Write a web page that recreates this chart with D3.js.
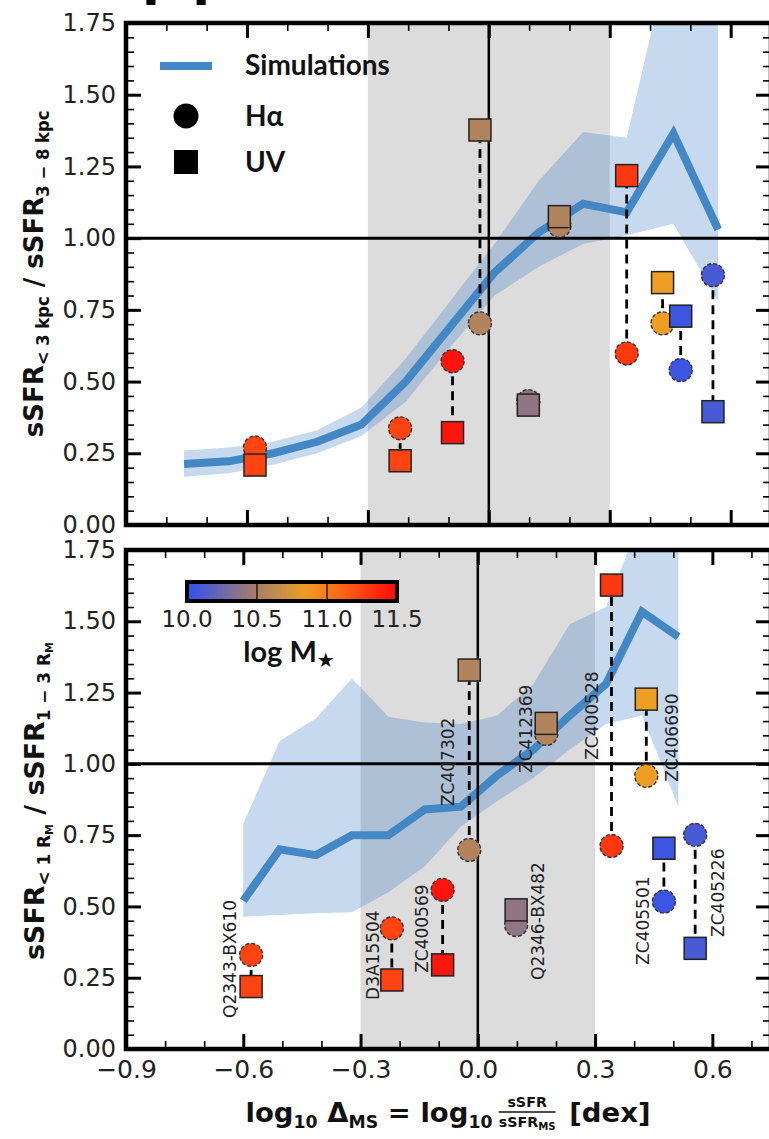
<!DOCTYPE html>
<html lang="en">
<head>
<meta charset="utf-8">
<title>sSFR ratio vs offset from main sequence</title>
<script src="https://d3js.org/d3.v7.min.js"></script>
<style>
  body { margin: 0; background: #fff; }
  .bold { font-family: Lato, "Open Sans", "DejaVu Sans", sans-serif; font-weight: bold; fill: #111; }
  .title { font-family: "DejaVu Sans", sans-serif; font-weight: bold; fill: #111; }
  .name { font-family: "DejaVu Sans", sans-serif; font-size: 17px; fill: #222; }
</style>
</head>
<body>
<script>

// galaxies, same order in every array below
var galaxies = ["Q2343-BX610", "D3A15504", "ZC400569", "ZC407302", "Q2346-BX482",
                "ZC412369", "ZC400528", "ZC406690", "ZC405501", "ZC405226"];
var logMass  = [11.25, 11.25, 11.45, 10.55, 10.4, 10.55, 11.3, 10.85, 10.05, 10.1];
var dMS      = [-0.58, -0.22, -0.09, -0.022, 0.098, 0.175, 0.342, 0.431, 0.476, 0.556];

// top panel: <3 kpc / 3-8 kpc
var haTop = [0.27, 0.337, 0.571, 0.703, 0.432, 1.043, 0.598, 0.703, 0.54, 0.871];
var uvTop = [0.209, 0.224, 0.322, 1.377, 0.418, 1.075, 1.218, 0.845, 0.728, 0.395];
// bottom panel: <1 R_M / 1-3 R_M
var haBot = [0.33, 0.423, 0.558, 0.698, 0.435, 1.105, 0.712, 0.958, 0.517, 0.751];
var uvBot = [0.219, 0.242, 0.295, 1.329, 0.488, 1.142, 1.627, 1.227, 0.704, 0.353];

// where the galaxy names sit in the bottom panel (data coords, text starts here)
var nameX = [-0.634, -0.268, -0.143, -0.076, 0.154, 0.123, 0.292, 0.497, 0.423, 0.614];
var nameY = [0.109, 0.172, 0.267, 0.852, 0.242, 0.968, 1.014, 0.937, 0.295, 0.393];

// simulations: median and spread
var simXTop   = [-0.756, -0.646, -0.536, -0.426, -0.316, -0.206, -0.096, 0.014, 0.124, 0.234, 0.342, 0.458, 0.569];
var simMedTop = [0.213, 0.222, 0.25, 0.29, 0.35, 0.50, 0.69, 0.88, 1.02, 1.12, 1.09, 1.365, 1.03];
var simLoTop  = [0.168, 0.18, 0.21, 0.25, 0.31, 0.43, 0.62, 0.80, 0.90, 0.98, 1.01, 1.05, 0.78];
var simHiTop  = [0.26, 0.27, 0.29, 0.33, 0.41, 0.58, 0.78, 0.98, 1.20, 1.37, 1.35, 2.05, 2.0];

var simXBot   = [-0.6, -0.507, -0.414, -0.322, -0.229, -0.136, -0.043, 0.05, 0.142, 0.235, 0.328, 0.42, 0.513];
var simMedBot = [0.52, 0.70, 0.68, 0.75, 0.75, 0.84, 0.85, 0.96, 1.05, 1.17, 1.28, 1.534, 1.446];
var simLoBot  = [0.464, 0.47, 0.476, 0.48, 0.55, 0.64, 0.78, 0.87, 0.95, 1.05, 1.14, 1.17, 0.85];
var simHiBot  = [0.79, 1.08, 1.16, 1.30, 1.165, 1.145, 1.14, 1.17, 1.28, 1.49, 1.55, 1.87, 1.87];

var yMajor = [0, 0.25, 0.5, 0.75, 1.0, 1.25, 1.5, 1.75];
var xMajor = [-0.9, -0.6, -0.3, 0.0, 0.3, 0.6];
var massTicks = [10.0, 10.5, 11.0, 11.5];

var w = 769, h = 1139;
var left = 126, right = 771;
var nb = "\u00a0";

var svg = d3.select("body").append("svg")
            .attr("width", w)
            .attr("height", h);

// blue -> brown -> orange -> red
var colorScale = d3.scaleLinear()
    .domain([10.0, 10.5, 10.85, 11.15, 11.5])
    .range(["#3050f0", "#a88068", "#ee9e22", "#ff5a14", "#ff0a0a"]);

var blue = "#4487c5";

// cut off title letters at the very top of the crop
svg.append("text")
   .attr("x", 142).attr("y", -6)
   .attr("font-size", 52)
   .attr("font-weight", "bold")
   .attr("letter-spacing", 13)
   .attr("font-family", "DejaVu Sans")
   .text("pp");

function panel(id, top, bottom, xDomain, ha, uv, simX, simMed, simLo, simHi, showX) {
  var x = d3.scaleLinear().domain(xDomain).range([left, right]);
  var y = d3.scaleLinear().domain([0, 1.75]).range([bottom, top]);
  var g = svg.append("g");

  g.append("clipPath").attr("id", id)
   .append("rect")
   .attr("x", left).attr("y", top)
   .attr("width", right - left).attr("height", bottom - top);

  var inner = g.append("g").attr("clip-path", "url(#" + id + ")");

  // grey region
  inner.append("rect")
       .attr("x", x(-0.3)).attr("y", top)
       .attr("width", x(0.3) - x(-0.3)).attr("height", bottom - top)
       .attr("fill", "#dcdcdc");

  var idx = d3.range(simX.length);
  var band = d3.area()
      .x(i => x(simX[i]))
      .y0(i => y(simLo[i]))
      .y1(i => y(simHi[i]));
  inner.append("path")
       .datum(idx)
       .attr("d", band)
       .attr("fill", "rgb(70,130,200)")
       .attr("fill-opacity", 0.3);

  var lineGen = d3.line()
      .x(i => x(simX[i]))
      .y(i => y(simMed[i]));
  inner.append("path")
       .datum(idx)
       .attr("d", lineGen)
       .attr("fill", "none")
       .attr("stroke", blue)
       .attr("stroke-width", 8)
       .attr("stroke-linejoin", "miter");

  // reference lines
  inner.append("line")
       .attr("x1", left).attr("x2", right)
       .attr("y1", y(1)).attr("y2", y(1))
       .attr("stroke", "#000").attr("stroke-width", 3);
  inner.append("line")
       .attr("x1", x(0)).attr("x2", x(0))
       .attr("y1", top).attr("y2", bottom)
       .attr("stroke", "#000").attr("stroke-width", 2.5);

  var gi = d3.range(galaxies.length);

  inner.selectAll("line.conn")
       .data(gi).enter().append("line")
       .attr("class", "conn")
       .attr("x1", i => x(dMS[i])).attr("x2", i => x(dMS[i]))
       .attr("y1", i => y(ha[i])).attr("y2", i => y(uv[i]))
       .attr("stroke", "#000")
       .attr("stroke-width", 2.8)
       .attr("stroke-dasharray", "9,6");

  inner.selectAll("circle.ha")
       .data(gi).enter().append("circle")
       .attr("class", "ha")
       .attr("cx", i => x(dMS[i]))
       .attr("cy", i => y(ha[i]))
       .attr("r", 11.5)
       .attr("fill", i => colorScale(logMass[i]))
       .attr("stroke", "#333")
       .attr("stroke-width", 1.4)
       .attr("stroke-dasharray", "4,2");

  inner.selectAll("rect.uv")
       .data(gi).enter().append("rect")
       .attr("class", "uv")
       .attr("x", i => x(dMS[i]) - 11)
       .attr("y", i => y(uv[i]) - 11)
       .attr("width", 22).attr("height", 22)
       .attr("fill", i => colorScale(logMass[i]))
       .attr("stroke", "#222")
       .attr("stroke-width", 1.5);

  // ticks
  function styleAxis(a, fs) {
    a.select(".domain").remove();
    a.selectAll(".tick line").attr("stroke", "#000");
    a.attr("font-family", "DejaVu Sans, sans-serif").attr("font-size", fs);
    a.selectAll(".tick text").attr("fill", "#222");
  }
  var xMinor = d3.range(-9, 8).map(d => d / 10).filter(d => d <= xDomain[1]);
  var yMinor = d3.range(0, 36).map(d => d * 0.05);

  [["axisLeft", left], ["axisRight", right]].forEach(function (p) {
    g.append("g").attr("transform", `translate(${p[1]},0)`)
     .call(d3[p[0]](y).tickValues(yMinor).tickSize(-8).tickFormat(""))
     .call(a => { styleAxis(a, 24); a.selectAll(".tick line").attr("stroke-width", 1.6); });
  });
  g.append("g").attr("transform", `translate(${left},0)`)
   .call(d3.axisLeft(y).tickValues(yMajor).tickSize(-15).tickPadding(10).tickFormat(d3.format(".2f")))
   .call(a => { styleAxis(a, 24); a.selectAll(".tick line").attr("stroke-width", 3); });
  g.append("g").attr("transform", `translate(${right},0)`)
   .call(d3.axisRight(y).tickValues(yMajor).tickSize(-15).tickFormat(""))
   .call(a => { styleAxis(a, 24); a.selectAll(".tick line").attr("stroke-width", 3); });

  [["axisTop", top], ["axisBottom", bottom]].forEach(function (p) {
    g.append("g").attr("transform", `translate(0,${p[1]})`)
     .call(d3[p[0]](x).tickValues(xMinor).tickSize(-8).tickFormat(""))
     .call(a => { styleAxis(a, 25); a.selectAll(".tick line").attr("stroke-width", 1.6); });
  });
  g.append("g").attr("transform", `translate(0,${top})`)
   .call(d3.axisTop(x).tickValues(xMajor).tickSize(-15).tickFormat(""))
   .call(a => { styleAxis(a, 25); a.selectAll(".tick line").attr("stroke-width", 3); });
  g.append("g").attr("transform", `translate(0,${bottom})`)
   .call(d3.axisBottom(x).tickValues(xMajor).tickSize(-15).tickPadding(11)
          .tickFormat(showX ? d3.format(".1f") : ""))
   .call(a => { styleAxis(a, 25); a.selectAll(".tick line").attr("stroke-width", 3); });

  // frame
  g.append("rect")
   .attr("x", left).attr("y", top)
   .attr("width", right - left).attr("height", bottom - top)
   .attr("fill", "none")
   .attr("stroke", "#000")
   .attr("stroke-width", 4.5);

  return {x: x, y: y, g: g};
}

var pTop = panel("clipTop", 23, 525, [-0.9, 0.7], haTop, uvTop,
                 simXTop, simMedTop, simLoTop, simHiTop, false);
var pBot = panel("clipBot", 550, 1049, [-0.9, 0.75], haBot, uvBot,
                 simXBot, simMedBot, simLoBot, simHiBot, true);

// galaxy names, bottom panel
pBot.g.selectAll("text.name")
  .data(d3.range(galaxies.length)).enter().append("text")
  .attr("class", "name")
  .attr("transform", i => `translate(${pBot.x(nameX[i])},${pBot.y(nameY[i])}) rotate(-90)`)
  .attr("dominant-baseline", "central")
  .text(i => galaxies[i]);

// legend (top panel)
var leg = svg.append("g");
leg.append("line").attr("x1", 160).attr("x2", 212).attr("y1", 66).attr("y2", 66)
   .attr("stroke", blue).attr("stroke-width", 8);
leg.append("circle").attr("cx", 186).attr("cy", 116).attr("r", 12.5).attr("fill", "#000");
leg.append("rect").attr("x", 174).attr("y", 150).attr("width", 24).attr("height", 24).attr("fill", "#000");
leg.selectAll("text.lg")
   .data([["Simulations", 75], ["H\u03b1", 126], ["UV", 172]])
   .enter().append("text")
   .attr("class", "bold")
   .attr("x", 245).attr("y", d => d[1])
   .attr("font-size", 28)
   .text(d => d[0]);

// colorbar (bottom panel)
var cbx = d3.scaleLinear().domain([10.0, 11.5]).range([187, 397]);
var grad = svg.append("defs").append("linearGradient").attr("id", "cmap");
grad.selectAll("stop")
    .data(d3.range(0, 1.0001, 0.05))
    .enter().append("stop")
    .attr("offset", d => d)
    .attr("stop-color", d => colorScale(10 + 1.5 * d));
svg.append("rect")
   .attr("x", cbx(10)).attr("y", 582)
   .attr("width", cbx(11.5) - cbx(10)).attr("height", 19)
   .attr("fill", "url(#cmap)")
   .attr("stroke", "#000").attr("stroke-width", 4);
svg.selectAll("line.cbdiv")
   .data([10.5, 11.0]).enter().append("line")
   .attr("x1", d => cbx(d)).attr("x2", d => cbx(d))
   .attr("y1", 582).attr("y2", 601)
   .attr("stroke", "#000").attr("stroke-width", 1.2);
svg.selectAll("text.cbl")
   .data(massTicks).enter().append("text")
   .attr("x", d => cbx(d)).attr("y", 627)
   .attr("text-anchor", "middle")
   .attr("font-family", "DejaVu Sans, sans-serif")
   .attr("font-size", 23)
   .attr("fill", "#222")
   .text(d => d.toFixed(1));
var cbt = svg.append("text").attr("class", "bold")
   .attr("x", 289).attr("y", 662)
   .attr("text-anchor", "middle")
   .attr("font-size", 29);
cbt.append("tspan").text("log M");
cbt.append("tspan").attr("font-size", 20).attr("dy", 5).text("\u2605");

// y-axis titles, stretched along their length to the reference span
function yTitle(cx, cy, span, parts) {
  var t = svg.append("text").attr("class", "title")
     .attr("text-anchor", "middle")
     .attr("font-size", 27);
  parts.forEach(function (p) {
    t.append("tspan").attr("font-size", p[1]).attr("dy", p[2]).text(p[0]);
  });
  var k = span / t.node().getComputedTextLength();
  t.attr("transform", `translate(${cx},${cy}) rotate(-90) scale(${k},1)`);
}
yTitle(43, 274, 327, [["sSFR", 27, 0], ["<" + nb + "3" + nb + "kpc", 17, 6], [nb + "/" + nb + "sSFR", 27, -6],
                      ["3" + nb + "\u2212" + nb + "8" + nb + "kpc", 17, 6]]);
yTitle(44, 801, 318, [["sSFR", 27, 0], ["<" + nb + "1" + nb + "R", 17, 6], ["M", 11, 3], [nb + "/" + nb + "sSFR", 27, -9],
                      ["1" + nb + "\u2212" + nb + "3" + nb + "R", 17, 6], ["M", 11, 3]]);

// x-axis title, laid out piece by piece
var xt = svg.append("g").attr("class", "title");
var cursor = 0, base = 1122;
function piece(str, fs, dy) {
  var t = xt.append("text").attr("x", cursor).attr("y", base + dy)
            .attr("font-size", fs).text(str);
  cursor += t.node().getComputedTextLength();
}
piece("log", 27, 0);
piece("10", 17, 6);
piece(nb + "\u0394", 27, 0);
piece("MS", 17, 6);
piece(nb + "=" + nb + "log", 27, 0);
piece("10", 17, 6);
cursor += 6;
var num = xt.append("text").attr("y", base - 15).attr("font-size", 14).attr("text-anchor", "middle").text("sSFR");
var den = xt.append("text").attr("y", base + 5).attr("font-size", 14).attr("text-anchor", "middle");
den.append("tspan").text("sSFR");
den.append("tspan").attr("font-size", 10).attr("dy", 3).text("MS");
var fw = Math.max(num.node().getComputedTextLength(), den.node().getComputedTextLength());
num.attr("x", cursor + fw / 2);
den.attr("x", cursor + fw / 2);
xt.append("line").attr("x1", cursor).attr("x2", cursor + fw)
  .attr("y1", base - 10).attr("y2", base - 10)
  .attr("stroke", "#111").attr("stroke-width", 1.5);
cursor += fw + 4;
piece(nb + "[dex]", 27, 0);
var kx = 405 / cursor;
xt.attr("transform", `translate(${448 - kx * cursor / 2},0) scale(${kx},1)`);

</script>
</body>
</html>
